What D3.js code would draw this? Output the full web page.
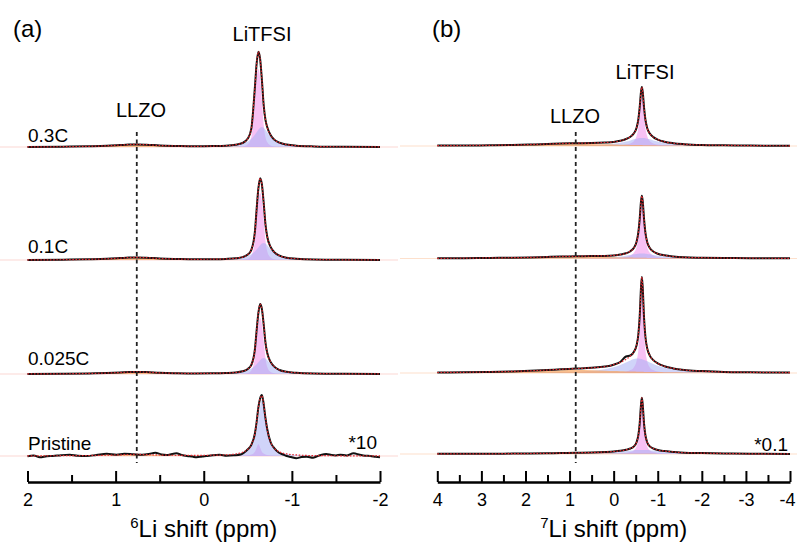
<!DOCTYPE html>
<html>
<head>
<meta charset="utf-8">
<script src="https://cdn.jsdelivr.net/npm/d3@7"></script>
<style>
  body { margin: 0; background: #fff; }
  svg { display: block; font-family: Arial, "Liberation Sans", sans-serif; }
</style>
</head>
<body>
<svg id="chart" width="797" height="544"></svg>
<script>
// ---- data (intensities in arbitrary units) ----
const samples = ["0.3C", "0.1C", "0.025C", "Pristine"];

// 6Li panel (a): chemical shift grid (ppm)
const ppmA = [2.0, 1.6, 1.3, 1.1, 0.95, 0.85, 0.76, 0.65, 0.5, 0.3, 0.1, -0.1, -0.25, -0.36, -0.44, -0.5, -0.54,
  -0.58, -0.6, -0.62, -0.64, -0.66, -0.68, -0.7, -0.72, -0.76, -0.8, -0.86, -0.94, -1.05, -1.25, -1.6, -2.0];

const a03Narrow = [0, 0, 0, 0, 0, 0, 0, 0, 0, 0, 0, 0, 0, 0.1, 0.5, 2.7, 10.1, 46.8, 68.6, 78, 68.6, 46.8, 22.6, 10.1, 5.1, 1.6, 0.5, 0.2, 0, 0, 0, 0, 0];
const a03Broad = [0, 0, 0.1, 0.1, 0.1, 0.1, 0.1, 0.1, 0.1, 0.2, 0.3, 0.6, 1.1, 2.0, 3.4, 5.6, 8.2, 12.2, 14.7, 17.2, 19.2, 20, 19.2, 17.2, 14.7, 10, 6.8, 4.0, 2.3, 1.2, 0.6, 0.2, 0.1];
const a03Llzo = [0.1, 0.3, 0.6, 1.1, 1.8, 2.3, 2.5, 2.2, 1.4, 0.8, 0.4, 0.3, 0.2, 0.2, 0.1, 0.1, 0.1, 0.1, 0.1, 0.1, 0.1, 0.1, 0.1, 0.1, 0.1, 0.1, 0.1, 0.1, 0.1, 0.1, 0, 0, 0];

const a01Narrow = [0, 0, 0, 0, 0, 0, 0, 0, 0, 0, 0, 0, 0, 0, 0.3, 1.3, 4.4, 19.4, 40.2, 59, 67, 59, 40.2, 19.4, 8.7, 2.3, 0.8, 0.2, 0, 0, 0, 0, 0];
const a01Broad = [0, 0, 0.1, 0.1, 0.1, 0.1, 0.1, 0.1, 0.1, 0.2, 0.3, 0.5, 0.9, 1.5, 2.5, 4.0, 5.7, 8.5, 10.4, 12.5, 14.7, 16.4, 17, 16.4, 14.7, 10.4, 7.0, 4.0, 2.2, 1.2, 0.5, 0.2, 0.1];
const a01Llzo = [0.1, 0.3, 0.6, 1.1, 1.8, 2.3, 2.5, 2.2, 1.4, 0.8, 0.4, 0.3, 0.2, 0.2, 0.1, 0.1, 0.1, 0.1, 0.1, 0.1, 0.1, 0.1, 0.1, 0.1, 0.1, 0.1, 0.1, 0.1, 0.1, 0.1, 0, 0, 0];

const a0025Narrow = [0, 0, 0, 0, 0, 0, 0, 0, 0, 0, 0, 0, 0, 0, 0.2, 1.1, 3.6, 16.2, 33.6, 49.3, 56, 49.3, 33.6, 16.2, 7.3, 2.0, 0.7, 0.1, 0, 0, 0, 0, 0];
const a0025Broad = [0, 0, 0.1, 0.1, 0.1, 0.1, 0.1, 0.1, 0.1, 0.2, 0.3, 0.5, 0.8, 1.4, 2.4, 3.8, 5.4, 8, 9.8, 11.8, 13.8, 15.4, 16, 15.4, 13.8, 9.8, 6.6, 3.8, 2.1, 1.1, 0.5, 0.2, 0.1];
const a0025Llzo = [0.1, 0.2, 0.5, 0.9, 1.4, 1.8, 2.0, 1.8, 1.1, 0.6, 0.3, 0.2, 0.2, 0.1, 0.1, 0.1, 0.1, 0.1, 0.1, 0.1, 0.1, 0.1, 0.1, 0.1, 0.1, 0.1, 0.1, 0.1, 0.1, 0.1, 0, 0, 0];

const aPrNarrow = [0, 0, 0, 0, 0, 0, 0, 0, 0, 0, 0, 0, 0, 0.1, 0.3, 0.7, 1.5, 4.3, 8.3, 12, 8.3, 4.3, 2.4, 1.5, 1.0, 0.5, 0.3, 0.1, 0, 0, 0, 0, 0];
const aPrBroad = [0, 0.1, 0.1, 0.1, 0.1, 0.1, 0.1, 0.1, 0.1, 0.2, 0.3, 0.6, 1.0, 1.8, 3.4, 5.9, 9.7, 17.9, 25.6, 36.6, 49.5, 56, 49.5, 36.6, 25.6, 13, 7.5, 3.9, 2.1, 1.1, 0.4, 0.2, 0.1];
const aPrLlzo = [0.1, 0.2, 0.4, 0.7, 1.1, 1.4, 1.5, 1.3, 0.9, 0.5, 0.3, 0.2, 0.1, 0.1, 0.1, 0.1, 0, 0, 0, 0, 0, 0, 0, 0, 0, 0, 0, 0, 0, 0, 0, 0, 0];

// pristine 6Li raw spectrum (x10, noisy): [ppm, intensity]
const aPrMeasured = [[2.0, -0.3], [1.93, 0.5], [1.86, -1.3], [1.78, -0.3], [1.71, 0], [1.62, 0.8], [1.52, 1.3], [1.43, 0.2],
  [1.33, 0], [1.22, 1.0], [1.1, 2.3], [0.99, 1.3], [0.9, 2.2], [0.8, 1.7], [0.7, 1.2], [0.62, 2.0], [0.55, 3.3], [0.48, 1.5],
  [0.42, 1.0], [0.36, 2.0], [0.31, 2.7], [0.25, 1.0], [0.19, 0], [0.13, -0.6], [0.08, -1.3], [0.02, -0.5], [-0.03, 0],
  [-0.1, 0.8], [-0.18, 1.3], [-0.26, 0.3], [-0.34, 0.7], [-0.42, 1.5], [-0.46, 3.5], [-0.5, 6.7], [-0.54, 11.2], [-0.58, 22.2],
  [-0.6, 33.9], [-0.62, 48.6], [-0.64, 57.8], [-0.66, 61], [-0.68, 51.9], [-0.7, 38.1], [-0.72, 27.0], [-0.76, 13.5], [-0.8, 7.8],
  [-0.85, 3.5], [-0.9, 1.5], [-0.94, 0], [-0.99, -1.0], [-1.05, -2.3], [-1.11, -1.0], [-1.17, -0.7], [-1.24, -1.7],
  [-1.28, -0.5], [-1.32, 0.7], [-1.39, 2.0], [-1.45, 1.0], [-1.5, 0.6], [-1.55, 1.3], [-1.62, 0.5], [-1.7, 2.7],
  [-1.77, 1.3], [-1.83, 0.3], [-1.89, 0], [-1.95, -0.8], [-2.0, -1.3]];

// 7Li panel (b): chemical shift grid (ppm)
const ppmB = [4, 3.4, 2.8, 2.3, 1.9, 1.5, 1.2, 0.86, 0.5, 0.2, 0, -0.15, -0.28, -0.38, -0.46, -0.52, -0.56, -0.59,
  -0.62, -0.64, -0.66, -0.69, -0.72, -0.76, -0.82, -0.9, -1.0, -1.15, -1.35, -1.6, -2.0, -2.5, -3.1, -4];

const b03Narrow = [0, 0, 0, 0, 0, 0, 0.1, 0.1, 0.1, 0.3, 0.4, 0.7, 1.4, 2.6, 5, 10, 18, 29.5, 45, 50, 45, 29.5, 18, 10, 5, 2.6, 1.4, 0.7, 0.4, 0.2, 0.1, 0.1, 0, 0];
const b03Broad = [0.1, 0.1, 0.1, 0.1, 0.2, 0.3, 0.4, 0.5, 0.9, 1.5, 2.2, 3.2, 4.4, 5.6, 6.7, 7.3, 7.7, 7.9, 8, 8, 8, 7.9, 7.7, 7.3, 6.7, 5.6, 4.4, 3.0, 1.9, 1.2, 0.6, 0.4, 0.2, 0.1];
const b03Llzo = [0.3, 0.4, 0.6, 0.9, 1.3, 1.7, 2.0, 2.2, 2.0, 1.7, 1.5, 1.3, 1.2, 1.1, 1.0, 0.9, 0.9, 0.9, 0.9, 0.9, 0.8, 0.8, 0.8, 0.8, 0.7, 0.7, 0.6, 0.6, 0.5, 0.4, 0.3, 0.2, 0.2, 0.1];

const b01Narrow = [0, 0, 0, 0, 0, 0, 0.1, 0.1, 0.2, 0.3, 0.5, 0.8, 1.5, 2.9, 5.7, 11.4, 20.5, 33.6, 51.3, 57, 51.3, 33.6, 20.5, 11.4, 5.7, 2.9, 1.5, 0.8, 0.4, 0.2, 0.1, 0.1, 0, 0];
const b01Broad = [0, 0, 0.1, 0.1, 0.1, 0.2, 0.2, 0.3, 0.6, 0.9, 1.4, 2.0, 2.8, 3.5, 4.2, 4.6, 4.8, 4.9, 5, 5, 5, 4.9, 4.8, 4.6, 4.2, 3.5, 2.8, 1.9, 1.2, 0.7, 0.4, 0.2, 0.1, 0.1];
const b01Llzo = [0.2, 0.3, 0.5, 0.7, 1.0, 1.4, 1.7, 1.8, 1.7, 1.4, 1.2, 1.1, 0.9, 0.9, 0.8, 0.8, 0.8, 0.7, 0.7, 0.7, 0.7, 0.7, 0.7, 0.6, 0.6, 0.6, 0.5, 0.5, 0.4, 0.3, 0.3, 0.2, 0.2, 0.1];

const b0025Narrow = [0, 0, 0, 0, 0, 0, 0, 0.1, 0.2, 0.3, 0.5, 0.8, 1.5, 2.9, 5.8, 12, 22.8, 40.5, 69.8, 81, 69.8, 40.5, 22.8, 12, 5.8, 2.9, 1.5, 0.8, 0.4, 0.2, 0.1, 0, 0, 0];
const b0025Broad = [0.1, 0.2, 0.3, 0.4, 0.5, 0.7, 0.9, 1.3, 2.2, 3.8, 5.8, 8.0, 10.6, 12.6, 13.9, 14.4, 14.4, 14.3, 14.1, 13.9, 13.6, 13.1, 12.6, 11.8, 10.6, 9.0, 7.2, 5.2, 3.5, 2.2, 1.3, 0.7, 0.4, 0.2];
const b0025Llzo = [0.4, 0.5, 0.8, 1.2, 1.7, 2.3, 2.8, 3.0, 2.8, 2.3, 2.0, 1.8, 1.6, 1.5, 1.4, 1.3, 1.3, 1.2, 1.2, 1.2, 1.2, 1.1, 1.1, 1.1, 1.0, 1.0, 0.9, 0.8, 0.7, 0.6, 0.5, 0.3, 0.3, 0.2];
// 0.025C raw 7Li spectrum, with the shoulder near -0.3 ppm
const b0025Measured = [0.5, 0.7, 1.1, 1.6, 2.2, 3.0, 3.7, 4.4, 5.2, 6.4, 8.3, 11.0, 16.5, 17.5, 21.3, 27.7, 38.5, 56.0, 85.1, 96.1, 84.6, 54.7, 36.5, 24.9, 17.4, 12.9, 9.6, 6.8, 4.6, 3.0, 1.9, 1.0, 0.7, 0.4];

const bPrNarrow = [0, 0, 0, 0, 0, 0, 0, 0.1, 0.1, 0.2, 0.3, 0.5, 1.0, 1.9, 3.7, 7.7, 14.6, 26, 44.8, 52, 44.8, 26, 14.6, 7.7, 3.7, 1.9, 1.0, 0.5, 0.3, 0.1, 0.1, 0, 0, 0];
const bPrBroad = [0.1, 0.1, 0.1, 0.2, 0.2, 0.3, 0.4, 0.6, 0.9, 1.4, 1.9, 2.4, 2.9, 3.4, 3.7, 3.9, 4, 4, 4, 4, 4, 4, 4, 3.9, 3.7, 3.4, 2.9, 2.3, 1.7, 1.1, 0.7, 0.4, 0.2, 0.1];
const bPrLlzo = [0.1, 0.1, 0.1, 0.2, 0.3, 0.4, 0.5, 0.5, 0.5, 0.4, 0.3, 0.3, 0.3, 0.2, 0.2, 0.2, 0.2, 0.2, 0.2, 0.2, 0.2, 0.2, 0.2, 0.2, 0.2, 0.2, 0.1, 0.1, 0.1, 0.1, 0.1, 0.1, 0, 0];

const llzoShift = [0.76, 0.86];          // dashed LLZO reference, ppm
const ticksMajorA = [2, 1, 0, -1, -2];
const ticksMinorA = [1.5, 0.5, -0.5, -1.5];
const ticksMajorB = [4, 3, 2, 1, 0, -1, -2, -3, -4];
const ticksMinorB = [3.5, 2.5, 1.5, 0.5, -0.5, -1.5, -2.5, -3.5];
const scaleNotes = ["*10", "*0.1"];

// ---- layout ----
const svg = d3.select("#chart");
const axisY = 482;
const yUnit = d3.scaleLinear().domain([0, 100]).range([0, 100]);

const colors = { broad: "#a9b1f4", narrow: "#f3a6ef", llzo: "#f7a45e" };

const panels = [
  {
    letter: "(a)", letterX: 13, nuc: "6", ppm: ppmA,
    x: d3.scaleLinear().domain([2, -2]).range([27.5, 380]),
    base: [147, 260, 374, 456], faint: [0, 398], faintColor: "#fbd8d3",
    major: ticksMajorA, minor: ticksMinorA, llzo: llzoShift[0],
    litfsiY: 41, llzoY: 117, note: scaleNotes[0], noteX: 377, noteY: 449, showNames: true,
    spectra: [
      { narrow: a03Narrow, broad: a03Broad, llzo: a03Llzo },
      { narrow: a01Narrow, broad: a01Broad, llzo: a01Llzo },
      { narrow: a0025Narrow, broad: a0025Broad, llzo: a0025Llzo },
      { narrow: aPrNarrow, broad: aPrBroad, llzo: aPrLlzo, measuredPairs: aPrMeasured }
    ]
  },
  {
    letter: "(b)", letterX: 432, nuc: "7", ppm: ppmB,
    x: d3.scaleLinear().domain([4, -4]).range([437.3, 790]),
    base: [146, 258.5, 373, 454], faint: [400, 797], faintColor: "#fde0cc",
    major: ticksMajorB, minor: ticksMinorB, llzo: llzoShift[1],
    litfsiY: 79, llzoY: 123, note: scaleNotes[1], noteX: 788, noteY: 451, showNames: false,
    spectra: [
      { narrow: b03Narrow, broad: b03Broad, llzo: b03Llzo },
      { narrow: b01Narrow, broad: b01Broad, llzo: b01Llzo },
      { narrow: b0025Narrow, broad: b0025Broad, llzo: b0025Llzo, measured: b0025Measured },
      { narrow: bPrNarrow, broad: bPrBroad, llzo: bPrLlzo }
    ]
  }
];

const nameY = [142, 253, 365, 450];
const litfsiX = [262, 645];
const llzoX = [141, 575];

panels.forEach((p, pi) => {
  const g = svg.append("g");
  const x = p.x;

  p.spectra.forEach((s, si) => {
    const b = p.base[si];
    const fit = p.ppm.map((v, i) => s.narrow[i] + s.broad[i] + s.llzo[i]);
    const pts = arr => p.ppm.map((v, i) => [v, arr[i]]);

    // faint zero line of the fit
    g.append("line")
      .attr("x1", p.faint[0]).attr("x2", p.faint[1])
      .attr("y1", b).attr("y2", b)
      .attr("stroke", p.faintColor).attr("stroke-width", 1.2);

    const area = d3.area().curve(d3.curveMonotoneX)
      .x(d => x(d[0])).y0(b).y1(d => b - yUnit(d[1]));
    const line = d3.line().curve(d3.curveMonotoneX)
      .x(d => x(d[0])).y(d => b - yUnit(d[1]));

    g.append("path").datum(pts(s.narrow)).attr("d", area)
      .attr("fill", colors.narrow).attr("fill-opacity", 0.7);
    g.append("path").datum(pts(s.broad)).attr("d", area)
      .attr("fill", colors.broad).attr("fill-opacity", 0.55);
    g.append("path").datum(pts(s.llzo)).attr("d", area)
      .attr("fill", colors.llzo).attr("fill-opacity", 0.7);

    // experimental spectrum
    const measured = s.measuredPairs ? s.measuredPairs : (s.measured ? pts(s.measured) : pts(fit));
    g.append("path").datum(measured).attr("d", line)
      .attr("fill", "none").attr("stroke", "#111").attr("stroke-width", 2)
      .attr("stroke-linejoin", "round");
    // total fit, red dotted
    g.append("path").datum(pts(fit)).attr("d", line)
      .attr("fill", "none").attr("stroke", "#e3262d").attr("stroke-width", 1.2)
      .attr("stroke-dasharray", "1.6,1.6");

    if (p.showNames) {
      g.append("text").attr("x", 28).attr("y", nameY[si])
        .attr("font-size", 19).text(samples[si]);
    }
  });

  // LLZO reference line
  g.append("line")
    .attr("x1", x(p.llzo)).attr("x2", x(p.llzo))
    .attr("y1", 132).attr("y2", 463)
    .attr("stroke", "#222").attr("stroke-width", 1.8)
    .attr("stroke-dasharray", "4,3.5");

  g.append("text").attr("x", p.letterX).attr("y", 37).attr("font-size", 24).text(p.letter);
  g.append("text").attr("x", litfsiX[pi]).attr("y", p.litfsiY).attr("text-anchor", "middle")
    .attr("font-size", 20).text("LiTFSI");
  g.append("text").attr("x", llzoX[pi]).attr("y", p.llzoY).attr("text-anchor", "middle")
    .attr("font-size", 20).text("LLZO");
  g.append("text").attr("x", p.noteX).attr("y", p.noteY).attr("text-anchor", "end")
    .attr("font-size", 19).text(p.note);

  // axis
  const major = d3.axisBottom(x).tickValues(p.major).tickSizeInner(-11).tickSizeOuter(0)
    .tickPadding(11).tickFormat(d => String(d));
  const minor = d3.axisBottom(x).tickValues(p.minor).tickSize(-7).tickFormat("");
  const ag = g.append("g").attr("transform", `translate(0,${axisY})`).call(major);
  ag.select(".domain").attr("stroke", "#000").attr("stroke-width", 2.5);
  ag.selectAll(".tick line").attr("stroke", "#000").attr("stroke-width", 2);
  ag.selectAll(".tick text").attr("font-size", 18).attr("fill", "#000")
    .attr("font-family", "Arial, 'Liberation Sans', sans-serif");
  // keep the right-most label inside the page
  ag.selectAll(".tick text").filter(d => x(d) > 785).attr("dx", -3);
  const mg = g.append("g").attr("transform", `translate(0,${axisY})`).call(minor);
  mg.select(".domain").remove();
  mg.selectAll(".tick line").attr("stroke", "#000").attr("stroke-width", 2);

  const range = x.range();
  const title = g.append("text").attr("x", (range[0] + range[1]) / 2).attr("y", 537)
    .attr("text-anchor", "middle").attr("font-size", 24);
  title.append("tspan").attr("font-size", 15).attr("dy", -9).text(p.nuc);
  title.append("tspan").attr("dy", 9).text("Li shift (ppm)");
});
</script>
</body>
</html>
